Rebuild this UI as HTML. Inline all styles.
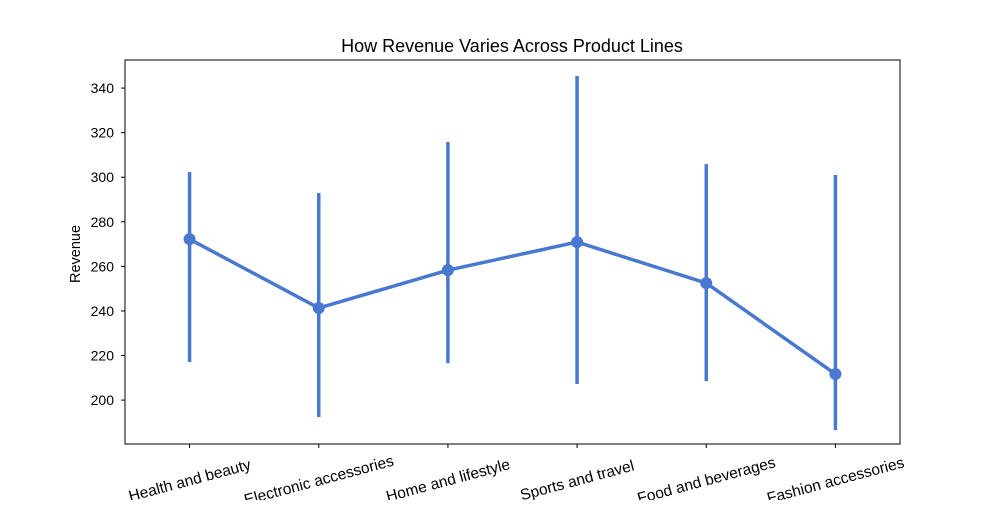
<!DOCTYPE html>
<html><head><meta charset="utf-8"><style>
body{margin:0;background:#fff;}
svg text{font-family:"Liberation Sans",sans-serif;fill:#000;}
</style></head><body>
<svg id="chart" width="1000" height="500" xmlns="http://www.w3.org/2000/svg">
<rect width="1000" height="500" fill="#fff"/>
<text x="512" y="52" font-size="18" text-anchor="middle">How Revenue Varies Across Product Lines</text>
<text transform="translate(80,254) rotate(-90)" font-size="14.5" text-anchor="middle">Revenue</text>
<g id="axes"></g>
<g id="marks"></g>
<rect x="125" y="60" width="775" height="384" fill="none" stroke="#000" stroke-width="1"/>
</svg>
<script>
const categories=["Health and beauty","Electronic accessories","Home and lifestyle","Sports and travel","Food and beverages","Fashion accessories"];
const means=[272.2,241.3,258.3,270.9,252.5,211.7];
const ciLow=[217.1,192.4,216.6,207.2,208.5,186.5];
const ciHigh=[302.3,292.9,315.8,345.4,305.9,301.0];
const yTicks=[200,220,240,260,280,300,320,340];
const ns="http://www.w3.org/2000/svg";
const L=125,R=900,T=60,B=444,yMin=180.3,yMax=352.6;
const x=i=>L+(i+0.5)*(R-L)/categories.length;
const y=v=>B-(v-yMin)/(yMax-yMin)*(B-T);
const axes=document.getElementById('axes'),marks=document.getElementById('marks');
function mk(t,a,p){const e=document.createElementNS(ns,t);for(const k in a)e.setAttribute(k,a[k]);p.appendChild(e);return e;}
yTicks.forEach(v=>{
 const l=mk('line',{x1:L-4,x2:L,y1:y(v),y2:y(v),stroke:'#000'},axes);
 
 
 const t=mk('text',{x:L-11,y:y(v)+5,'font-size':14,'text-anchor':'end'},axes);
 t.textContent=v;
 
 
});
categories.forEach((c,i)=>{
 const l=mk('line',{x1:x(i),x2:x(i),y1:B,y2:B+4,stroke:'#000'},axes);
 
 
 const t=mk('text',{transform:`translate(${x(i)},${B+36}) rotate(-15)`,'font-size':15.5,'text-anchor':'middle',dy:'0.35em'},axes);
 t.textContent=c;
 
 
});
categories.forEach((c,i)=>{
 const e=mk('line',{x1:x(i),x2:x(i),y1:y(ciLow[i]),y2:y(ciHigh[i]),stroke:'#4878d0','stroke-width':3.5},marks);
 
 
});
const pl=mk('polyline',{points:means.map((v,i)=>x(i)+','+y(v)).join(' '),fill:'none',stroke:'#4878d0','stroke-width':3.5},marks);


means.forEach((v,i)=>{
 const c=mk('circle',{cx:x(i),cy:y(v),r:6,fill:'#4878d0'},marks);
 
 
});
</script>
</body></html>
